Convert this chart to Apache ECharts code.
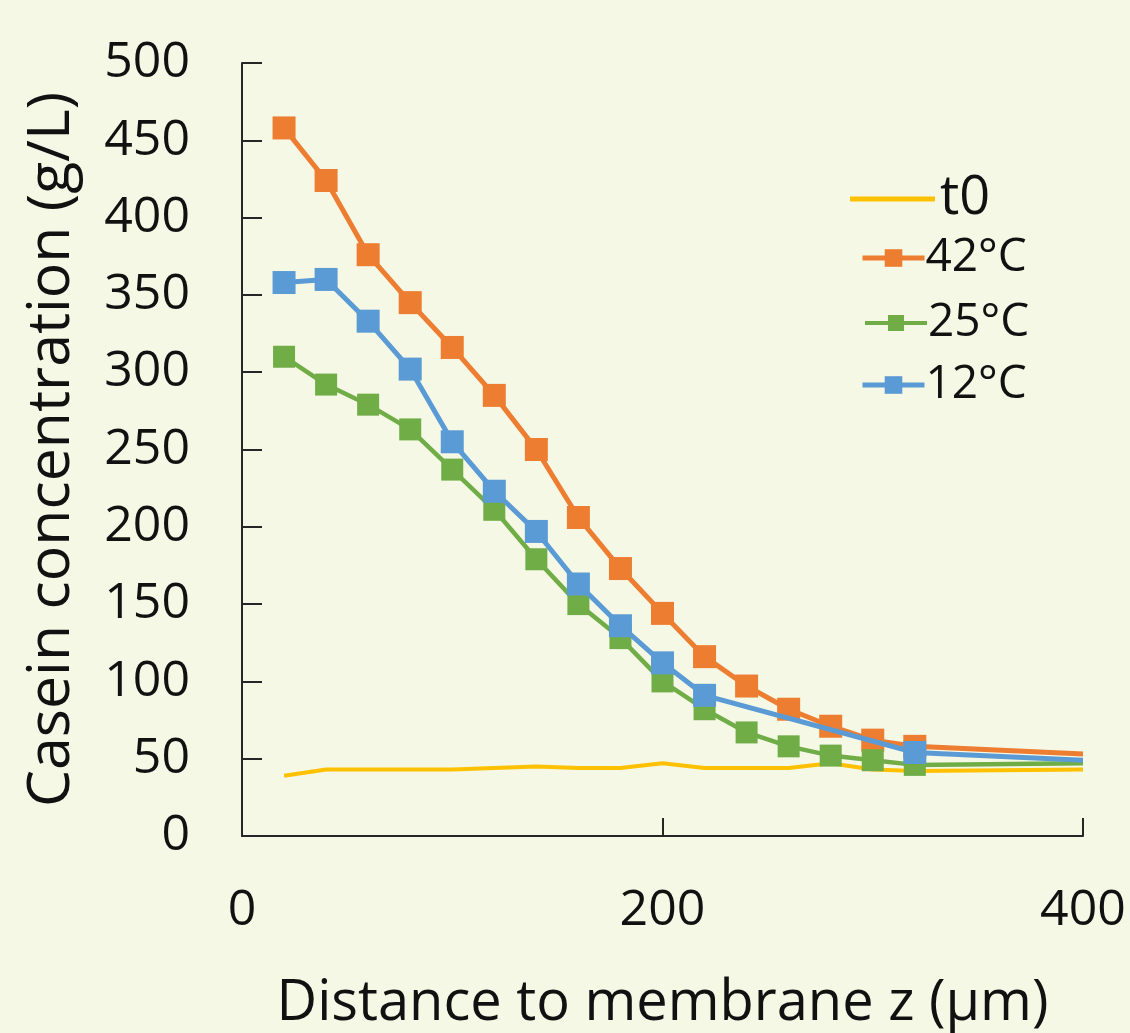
<!DOCTYPE html>
<html>
<head>
<meta charset="utf-8">
<script src="https://cdn.jsdelivr.net/npm/echarts@6/dist/echarts.min.js"></script>
<style>
html,body{margin:0;padding:0;background:#F5F8E5;overflow:hidden;}
#chart{width:1130px;height:1033px;}
</style>
</head>
<body>
<div id="chart"></div>
<script>
// ---- data ----
const xT0   = [20, 40, 60, 80, 100, 120, 140, 160, 180, 200, 220, 240, 260, 280, 300, 320, 400];
const yT0   = [39, 43, 43, 43, 43, 44, 45, 44, 44, 47, 44, 44, 44, 47, 43, 42, 43];

const x42   = [20, 40, 60, 80, 100, 120, 140, 160, 180, 200, 220, 240, 260, 280, 300, 320, 400];
const y42   = [458, 424, 376, 345, 316, 285, 250, 206, 173, 144, 116, 97, 82, 71, 62, 58, 53];

const x25   = [20, 40, 60, 80, 100, 120, 140, 160, 180, 200, 220, 240, 260, 280, 300, 320, 400];
const y25   = [310, 292, 279, 263, 237, 211, 179, 150, 128, 100, 82, 67, 58, 52, 49, 46, 47];

const x12   = [20, 40, 60, 80, 100, 120, 140, 160, 180, 200, 220, 320, 400];
const y12   = [358, 360, 333, 302, 255, 223, 197, 163, 136, 112, 91, 54, 49];

const seriesNames = ['t0', '42°C', '25°C', '12°C'];
const xTicks = [0, 200, 400];
const yTicks = [0, 50, 100, 150, 200, 250, 300, 350, 400, 450, 500];
const xTitle = 'Distance to membrane z (µm)';
const yTitle = 'Casein concentration (g/L)';

// ---- build ----
const END_X = 400;
function pts(xs, ys, markers) {
  return xs.map((x, i) => {
    const p = { value: [x, ys[i]] };
    if (!markers || x === END_X) p.symbol = 'none';
    return p;
  });
}

const colors = { t0: '#FFC000', o: '#ED7D31', g: '#70AD47', b: '#5B9BD5' };
const txt = '#111111';
const tickFont = 'Open Sans';

const chart = echarts.init(document.getElementById('chart'), null, { renderer: 'canvas' });

function legendFor(name, left, top, opts) {
  return Object.assign({
    data: [name],
    left: left, top: top,
    orient: 'vertical',
    padding: 0,
    itemGap: 0,
    selectedMode: false,
    itemWidth: 62,
    itemHeight: 22,
    lineStyle: { width: 5 },
    textStyle: { color: txt, fontFamily: '"Liberation Sans Narrow", "Open Sans", sans-serif', fontSize: 46, padding: [0, 0, 0, -4] }
  }, opts || {});
}

chart.setOption({
  backgroundColor: '#F5F8E5',
  animation: false,
  grid: { left: 242, right: 47, top: 63, bottom: 197, containLabel: false, outerBoundsMode: 'none' },
  legend: [
    legendFor('t0', 850, 172, {
      icon: 'rect', itemWidth: 85, itemHeight: 5,
      textStyle: { color: txt, fontFamily: tickFont, fontSize: 54, padding: [0, 0, 0, 0] }
    }),
    legendFor('42°C', 860, 235),
    legendFor('25°C', 863, 300, { lineStyle: { width: 4 }, itemHeight: 20 }),
    legendFor('12°C', 860, 362)
  ],
  xAxis: {
    type: 'value', min: xTicks[0], max: xTicks[xTicks.length - 1], interval: xTicks[1] - xTicks[0],
    name: xTitle, nameLocation: 'middle', nameGap: 140,
    nameTextStyle: { color: txt, fontFamily: tickFont, fontSize: 56 },
    axisLine: { show: true, onZero: false, lineStyle: { color: '#262626', width: 2 } },
    axisTick: { show: true, inside: true, length: 18, lineStyle: { color: '#262626', width: 2 } },
    axisLabel: { color: txt, fontFamily: tickFont, fontSize: 50, margin: 50 },
    splitLine: { show: false }
  },
  yAxis: {
    type: 'value', min: yTicks[0], max: yTicks[yTicks.length - 1], interval: yTicks[1] - yTicks[0],
    name: yTitle, nameLocation: 'middle', nameGap: 160,
    nameTextStyle: { color: txt, fontFamily: tickFont, fontSize: 59 },
    axisLine: { show: true, lineStyle: { color: '#262626', width: 2 } },
    axisTick: { show: true, inside: true, length: 20, lineStyle: { color: '#262626', width: 2 } },
    axisLabel: { color: txt, fontFamily: tickFont, fontSize: 50, margin: 52 },
    splitLine: { show: false }
  },
  series: [
    {
      name: seriesNames[0], type: 'line', data: pts(xT0, yT0, false),
      symbol: 'none', showSymbol: false,
      lineStyle: { color: colors.t0, width: 4 }, itemStyle: { color: colors.t0 }, z: 1
    },
    {
      name: seriesNames[1], type: 'line', data: pts(x42, y42, true),
      symbol: 'rect', symbolSize: 23,
      lineStyle: { color: colors.o, width: 5 }, itemStyle: { color: colors.o }, z: 2
    },
    {
      name: seriesNames[2], type: 'line', data: pts(x25, y25, true),
      symbol: 'rect', symbolSize: 22,
      lineStyle: { color: colors.g, width: 4.5 }, itemStyle: { color: colors.g }, z: 3
    },
    {
      name: seriesNames[3], type: 'line', data: pts(x12, y12, true),
      symbol: 'rect', symbolSize: 23,
      lineStyle: { color: colors.b, width: 5 }, itemStyle: { color: colors.b }, z: 4
    }
  ]
});
</script>
</body>
</html>
